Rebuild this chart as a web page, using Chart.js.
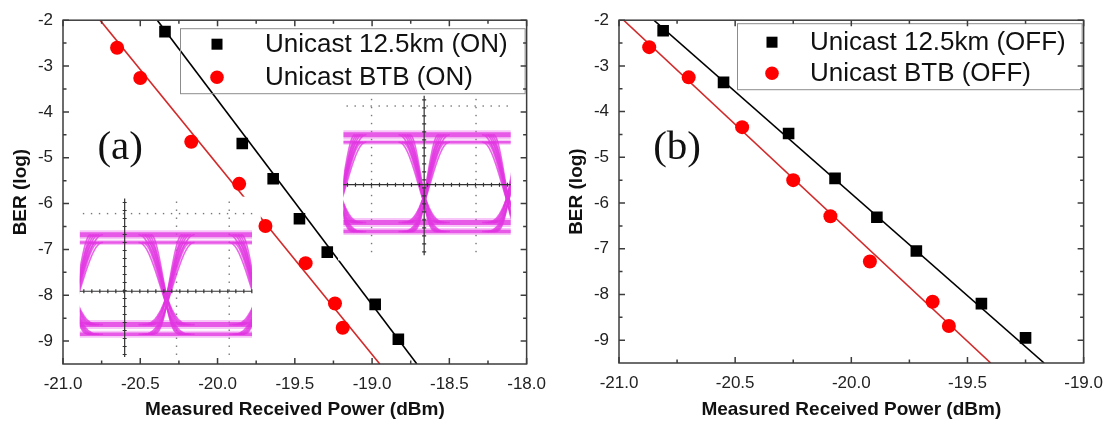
<!DOCTYPE html>
<html>
<head>
<meta charset="utf-8">
<script src="https://cdn.jsdelivr.net/npm/chart.js@4.4.1/dist/chart.umd.min.js"></script>
<style>
html,body{margin:0;padding:0;background:#fff;}
#wrap{position:relative;width:1113px;height:425px;overflow:hidden;}
#boxA{position:absolute;left:0;top:0;width:556px;height:425px;}
#boxB{position:absolute;left:556px;top:0;width:557px;height:425px;}
</style>
</head>
<body>
<div id="wrap">
  <div id="boxA"><canvas id="chartA" width="556" height="425"></canvas></div>
  <div id="boxB"><canvas id="chartB" width="557" height="425"></canvas></div>
</div>
<script>
// ---- data ----
const yTicks = [-2, -3, -4, -5, -6, -7, -8, -9];
const xTicksA = [-21, -20.5, -20, -19.5, -19, -18.5, -18];
const xTicksB = [-21, -20.5, -20, -19.5, -19];

// (a) switch ON
const onKmX  = [-20.34, -19.84, -19.64, -19.47, -19.29, -18.98, -18.83];
const onKmY  = [-2.25, -4.69, -5.46, -6.33, -7.06, -8.20, -8.96];
const onBtbX = [-20.65, -20.50, -20.17, -19.86, -19.69, -19.43, -19.24, -19.19];
const onBtbY = [-2.60, -3.26, -4.65, -5.57, -6.49, -7.30, -8.18, -8.71];
const onKmFitX  = [-20.39, -18.71];
const onKmFitY  = [-2, -9.5];
const onBtbFitX = [-20.76, -18.95];
const onBtbFitY = [-2, -9.5];

// (b) switch OFF
const offKmX  = [-20.81, -20.55, -20.27, -20.07, -19.89, -19.72, -19.44, -19.25];
const offKmY  = [-2.23, -3.36, -4.48, -5.46, -6.31, -7.05, -8.20, -8.95];
const offBtbX = [-20.87, -20.70, -20.47, -20.25, -20.09, -19.92, -19.65, -19.58];
const offBtbY = [-2.59, -3.25, -4.34, -5.50, -6.29, -7.28, -8.16, -8.69];
const offKmFitX  = [-20.85, -19.17];
const offKmFitY  = [-2, -9.5];
const offBtbFitX = [-20.98, -19.40];
const offBtbFitY = [-2, -9.5];

const FONT = "'Liberation Sans', Arial, sans-serif";
const MAGENTA = "rgba(226,52,226,0.75)";
const MAGENTA_SOFT = "rgba(232,90,232,0.35)";

function pts(xs, ys){ return xs.map((x, i) => ({x: x, y: ys[i]})) }

// eye diagram insets (placed in data units)
const insetsA = [
  { box: [-20.93, -19.72, -5.85, -9.46], eye: [-20.891, -19.777],
    rails: [-6.68, -6.85, -8.64, -8.85], cross: [-20.923, -20.330, -19.745],
    cx: -20.601, cy: -7.913, cv: [-5.89, -9.35],
    dotH: [-6.217], dotV: [-20.266, -19.925] },
  { box: [-19.22, -18.07, -3.59, -7.24], eye: [-19.185, -18.103],
    rails: [-4.50, -4.663, -6.413, -6.609], cross: [-19.204, -18.663, -18.122],
    cx: -18.663, cy: -5.587, cv: [-3.65, -7.13],
    dotH: [-3.870], dotV: [-19.004, -18.328] }
];

const extras = {
  chartA: { insets: insetsA, letter: {text: "(a)", x: -20.63, y: -4.8},
    legend: {box: [117, 8, 73], mark: 154, text: 202, rows: [24, 57]} },
  chartB: { insets: [], letter: {text: "(b)", x: -20.75, y: -4.8},
    legend: {box: [118, 3, 69], mark: 153, text: 191, rows: [22, 53]} }
};

// transition shape: slow departure from the top rail, crossing low
function ease(t){ return 1 - Math.pow(1 - t * t, 4) }

function drawEye(chart, e){
  const ctx = chart.ctx;
  const X = v => chart.scales.x.getPixelForValue(v);
  const Y = v => chart.scales.y.getPixelForValue(v);
  ctx.save();
  ctx.fillStyle = "#fff";
  ctx.fillRect(X(e.box[0]), Y(e.box[2]), X(e.box[1]) - X(e.box[0]), Y(e.box[3]) - Y(e.box[2]));

  const ex0 = X(e.eye[0]), ex1 = X(e.eye[1]);
  const cy0 = Y(e.cv[0]), cy1 = Y(e.cv[1]);

  // scope dotted graticule
  ctx.fillStyle = "#777";
  e.dotH.forEach(v => { for (let p = ex0 + 3; p < ex1; p += 8) ctx.fillRect(p, Y(v) - 0.6, 1.4, 1.4) });
  e.dotV.forEach(v => { for (let p = cy0 + 3; p < cy1; p += 8) ctx.fillRect(X(v) - 0.6, p, 1.4, 1.4) });

  // eye traces
  const r = e.rails.map(Y);
  ctx.beginPath();
  ctx.rect(ex0, r[0] - 8, ex1 - ex0, r[3] - r[0] + 16);
  ctx.clip();
  ctx.lineCap = "round";
  [[r[0], 5, 9], [r[1], 2.5, 5], [r[2], 5, 9], [r[3], 3.5, 7]].forEach(a => {
    ctx.strokeStyle = MAGENTA_SOFT;
    ctx.lineWidth = a[2];
    ctx.beginPath(); ctx.moveTo(ex0, a[0]); ctx.lineTo(ex1, a[0]); ctx.stroke();
    ctx.strokeStyle = MAGENTA;
    ctx.lineWidth = a[1];
    ctx.beginPath(); ctx.moveTo(ex0, a[0]); ctx.lineTo(ex1, a[0]); ctx.stroke();
  });
  const xs = e.cross.map(X);
  const sp = xs[1] - xs[0];
  ctx.strokeStyle = MAGENTA;
  ctx.lineWidth = 1.6;
  xs.forEach(xc => {
    [0.17, 0.2, 0.23, 0.26, 0.3].forEach(f => {
      const w = f * sp;
      [[r[0], r[2]], [r[1], r[3]]].forEach(pair => {
        [false, true].forEach(rise => {
          ctx.beginPath();
          for (let k = 0; k <= 30; k++) {
            const t = k / 30;
            const g = rise ? ease(1 - t) : ease(t);
            const px = xc - w + 2 * w * t, py = pair[0] + (pair[1] - pair[0]) * g;
            if (k === 0) ctx.moveTo(px, py); else ctx.lineTo(px, py);
          }
          ctx.stroke();
        });
      });
    });
  });
  ctx.restore();

  // crosshair with small ticks
  ctx.save();
  ctx.strokeStyle = "#333";
  ctx.lineWidth = 1.2;
  const cxp = X(e.cx), cyp = Y(e.cy);
  ctx.beginPath();
  ctx.moveTo(cxp, cy0); ctx.lineTo(cxp, cy1);
  ctx.moveTo(ex0, cyp); ctx.lineTo(ex1, cyp);
  for (let p = cy0 + 4; p < cy1; p += 8) { ctx.moveTo(cxp - 2, p); ctx.lineTo(cxp + 2, p) }
  for (let p = ex0 + 4; p < ex1; p += 8) { ctx.moveTo(p, cyp - 2); ctx.lineTo(p, cyp + 2) }
  ctx.stroke();
  ctx.restore();
}

const framePlugin = {
  id: "frame",
  afterDatasetDraw(chart, args){
    if (args.index === 2) extras[chart.canvas.id].insets.forEach(e => drawEye(chart, e));
  },
  afterDraw(chart){
    const ctx = chart.ctx, a = chart.chartArea;
    const ex = extras[chart.canvas.id];
    const xs = chart.scales.x, ys = chart.scales.y;
    ctx.save();

    // panel letter
    ctx.fillStyle = "#111";
    ctx.font = "41px 'Liberation Serif', 'Times New Roman', serif";
    ctx.textAlign = "center";
    ctx.textBaseline = "middle";
    ctx.fillText(ex.letter.text, xs.getPixelForValue(ex.letter.x), ys.getPixelForValue(ex.letter.y));

    // legend
    const lg = ex.legend;
    ctx.strokeStyle = "#8c8c8c";
    ctx.lineWidth = 1;
    ctx.strokeRect(a.left + lg.box[0] + 0.5, a.top + lg.box[1] + 0.5, a.right - a.left - lg.box[0] - 2, lg.box[2] - lg.box[1]);
    ctx.font = "26px " + FONT;
    ctx.textAlign = "left";
    [0, 1].forEach(i => {
      const ds = chart.data.datasets[i];
      const my = a.top + lg.rows[i], mx = a.left + lg.mark;
      ctx.fillStyle = ds.backgroundColor;
      if (ds.pointStyle === "rect") ctx.fillRect(mx - 5.5, my - 5.5, 11, 11);
      else { ctx.beginPath(); ctx.arc(mx, my, 6.8, 0, Math.PI * 2); ctx.fill(); }
      ctx.fillStyle = "#111";
      ctx.fillText(ds.label, a.left + lg.text, my + 1);
    });

    // box frame with inward ticks on all sides
    ctx.strokeStyle = "#3c3c3c";
    ctx.lineWidth = 1.5;
    ctx.strokeRect(a.left, a.top, a.right - a.left, a.bottom - a.top);
    ctx.beginPath();
    const xt = xs.ticks.map(t => t.value), yt = ys.ticks.map(t => t.value);
    const tickX = (v, len) => {
      const p = xs.getPixelForValue(v);
      ctx.moveTo(p, a.bottom); ctx.lineTo(p, a.bottom - len);
      ctx.moveTo(p, a.top); ctx.lineTo(p, a.top + len);
    };
    const tickY = (v, len) => {
      const p = ys.getPixelForValue(v);
      ctx.moveTo(a.left, p); ctx.lineTo(a.left + len, p);
      ctx.moveTo(a.right, p); ctx.lineTo(a.right - len, p);
    };
    xt.forEach((v, i) => { tickX(v, 6); if (i > 0) tickX((v + xt[i - 1]) / 2, 3.5) });
    yt.forEach((v, i) => { tickY(v, 6); if (i > 0) tickY((v + yt[i - 1]) / 2, 3.5) });
    ctx.stroke();
    ctx.restore();
  }
};

function makeChart(id, xTicks, xMax, kmLabel, btbLabel, kmX, kmY, btbX, btbY, kmFX, kmFY, btbFX, btbFY, pad){
  return new Chart(document.getElementById(id), {
    type: "scatter",
    data: {
      datasets: [
        { label: kmLabel, data: pts(kmX, kmY), pointStyle: "rect", pointRadius: 8.2, pointHoverRadius: 8.2,
          backgroundColor: "#000", borderColor: "#000", borderWidth: 0 },
        { label: btbLabel, data: pts(btbX, btbY), pointStyle: "circle", pointRadius: 7, pointHoverRadius: 7,
          backgroundColor: "#ff0000", borderColor: "#ff0000", borderWidth: 0 },
        { label: "fit km", type: "line", data: pts(kmFX, kmFY), borderColor: "#000", borderWidth: 1.6,
          pointRadius: 0, fill: false },
        { label: "fit btb", type: "line", data: pts(btbFX, btbFY), borderColor: "#d22a2a", borderWidth: 1.6,
          pointRadius: 0, fill: false }
      ]
    },
    options: {
      responsive: false,
      animation: false,
      events: [],
      layout: { padding: { top: pad.top, right: pad.right, left: 0, bottom: 0 } },
      plugins: { legend: { display: false }, tooltip: { enabled: false } },
      scales: {
        x: {
          type: "linear", min: -21, max: xMax,
          afterBuildTicks: s => { s.ticks = xTicks.map(v => ({value: v})) },
          afterFit: s => { s.height = pad.xh },
          grid: { display: false, drawTicks: false },
          border: { display: false },
          ticks: { padding: 10, color: "#222", font: { family: FONT, size: 17 },
            maxRotation: 0, autoSkip: false, callback: v => v.toFixed(1) },
          title: { display: true, text: "Measured Received Power (dBm)", color: "#111",
            font: { family: FONT, size: 19, weight: "bold" }, padding: { top: 4, bottom: 4 } }
        },
        y: {
          type: "linear", min: -9.5, max: -2,
          afterBuildTicks: s => { s.ticks = yTicks.map(v => ({value: v})) },
          afterFit: s => { s.width = 63 },
          grid: { display: false, drawTicks: false },
          border: { display: false },
          ticks: { padding: 10, color: "#222", font: { family: FONT, size: 17 }, autoSkip: false,
            callback: v => String(v) },
          title: { display: true, text: "BER (log)", color: "#111",
            font: { family: FONT, size: 19, weight: "bold" }, padding: { top: 9, bottom: 4 } }
        }
      }
    },
    plugins: [framePlugin]
  });
}

makeChart("chartA", xTicksA, -18, "Unicast 12.5km (ON)", "Unicast BTB (ON)",
  onKmX, onKmY, onBtbX, onBtbY, onKmFitX, onKmFitY, onBtbFitX, onBtbFitY,
  { top: 19, right: 27, xh: 61 });
makeChart("chartB", xTicksB, -19, "Unicast 12.5km (OFF)", "Unicast BTB (OFF)",
  offKmX, offKmY, offBtbX, offBtbY, offKmFitX, offKmFitY, offBtbFitX, offBtbFitY,
  { top: 20, right: 29, xh: 62 });
</script>
</body>
</html>
